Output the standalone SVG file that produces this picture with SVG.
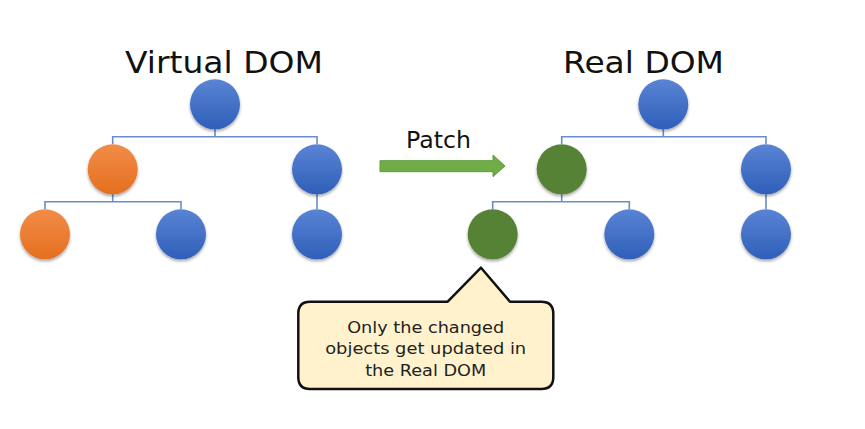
<svg xmlns="http://www.w3.org/2000/svg" width="865" height="429" viewBox="0 0 865 429">
<defs>
<linearGradient id="gBlue" x1="0" y1="0" x2="0" y2="1">
<stop offset="0" stop-color="#5a84d4"/><stop offset="1" stop-color="#2e5fb9"/>
</linearGradient>
<linearGradient id="gOrange" x1="0" y1="0" x2="0" y2="1">
<stop offset="0" stop-color="#f28c48"/><stop offset="1" stop-color="#e46f1f"/>
</linearGradient>
<filter id="sh" x="-30%" y="-30%" width="160%" height="170%">
<feDropShadow dx="0" dy="2" stdDeviation="1.5" flood-color="#000" flood-opacity="0.35"/>
</filter>
<style>
.t{font-family:"DejaVu Sans",sans-serif;fill:#111}
.blue{fill:url(#gBlue);filter:url(#sh)}
.orange{fill:url(#gOrange);filter:url(#sh)}
.green{fill:#548235;filter:url(#sh)}
.ln{fill:none;stroke:#6a8ccc;stroke-width:1.6}
.c{font-family:"DejaVu Sans",sans-serif;font-size:16.5px;fill:#222;text-anchor:middle}
</style>
</defs>
<rect width="865" height="429" fill="#fff"/>
<text class="t" x="125" y="73" font-size="30" textLength="198" lengthAdjust="spacingAndGlyphs">Virtual DOM</text>
<text class="t" x="563" y="73" font-size="30" textLength="161" lengthAdjust="spacingAndGlyphs">Real DOM</text>
<g id="connectors">
<path class="ln" d="M215 129V136.7M112.7 144V136.7H317V144M112.7 194V201.7M45 209V201.7H181V209M317 194V209"/>
<path class="ln" d="M663.3 129V136.7M561.7 144V136.7H766V144M561.7 194V201.7M492.7 209V201.7H629.3V209M766 194V209"/>
</g>
<g id="v-root"><circle class="blue" cx="215" cy="104.3" r="25"/></g>
<g id="v-left"><circle class="orange" cx="112.7" cy="169.3" r="25"/></g>
<g id="v-right"><circle class="blue" cx="317" cy="169.3" r="25"/></g>
<g id="v-ll"><circle class="orange" cx="45" cy="234.3" r="25"/></g>
<g id="v-lr"><circle class="blue" cx="181" cy="234.3" r="25"/></g>
<g id="v-rr"><circle class="blue" cx="317" cy="234.3" r="25"/></g>
<g id="r-root"><circle class="blue" cx="663.3" cy="104.3" r="25"/></g>
<g id="r-left"><circle class="green" cx="561.7" cy="169.3" r="25"/></g>
<g id="r-right"><circle class="blue" cx="766" cy="169.3" r="25"/></g>
<g id="r-ll"><circle class="green" cx="492.7" cy="234.3" r="25"/></g>
<g id="r-lr"><circle class="blue" cx="629.3" cy="234.3" r="25"/></g>
<g id="r-rr"><circle class="blue" cx="766" cy="234.3" r="25"/></g>
<g id="patch">
<text class="t" x="406" y="148" font-size="22.5" textLength="65" lengthAdjust="spacingAndGlyphs">Patch</text>
<path d="M380 160.7H493V155L505 166L493 176.7V171.7H380Z" fill="#70ad47" stroke="#5f9a3b" stroke-width="1"/>
</g>
<g id="callout">
<path d="M310 301.7H447.7L481 267.7L510 301.7H541.3Q553.3 301.7 553.3 313.7V377Q553.3 389 541.3 389H310Q298.3 389 298.3 377V313.7Q298.3 301.7 310 301.7Z" fill="#fff2cc" stroke="#111" stroke-width="2.5" stroke-linejoin="round"/>
<text class="c" x="425.7" y="332.7" textLength="157" lengthAdjust="spacingAndGlyphs">Only the changed</text>
<text class="c" x="425.7" y="354.3" textLength="201" lengthAdjust="spacingAndGlyphs">objects get updated in</text>
<text class="c" x="425.7" y="376" textLength="121" lengthAdjust="spacingAndGlyphs">the Real DOM</text>
</g>
</svg>
